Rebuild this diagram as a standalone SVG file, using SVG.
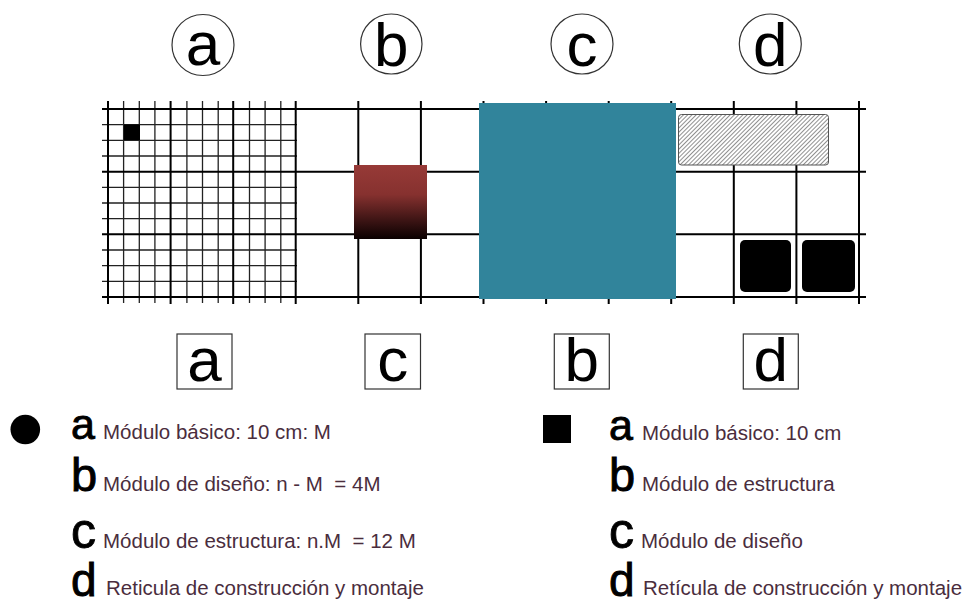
<svg xmlns="http://www.w3.org/2000/svg" width="968" height="601" viewBox="0 0 968 601">
<style>
.maj{stroke:#000;stroke-width:2}
.fine{stroke:#222;stroke-width:1.3}
.big{font-family:"Liberation Sans",Arial,sans-serif;fill:#000;stroke:#000;stroke-width:0.9}
.lbl{font-family:"Liberation Sans",Arial,sans-serif;fill:#000;font-size:62px;text-anchor:middle}
.txt{font-family:"Liberation Sans",Arial,sans-serif;fill:#4a2d3d;font-size:20.5px}
.ring{fill:#fff;stroke:#333;stroke-width:1.2}
.box{fill:#fff;stroke:#333;stroke-width:1.2}
</style>
<defs>
<linearGradient id="grad" x1="0" y1="0" x2="0" y2="1">
<stop offset="0" stop-color="#973a37"/>
<stop offset="0.4" stop-color="#86312f"/>
<stop offset="0.75" stop-color="#3c1414"/>
<stop offset="1" stop-color="#0a0000"/>
</linearGradient>
<pattern id="hatch" width="3" height="3" patternUnits="userSpaceOnUse" patternTransform="rotate(45)">
<rect width="3" height="3" fill="#fff"/>
<line x1="0" y1="0" x2="0" y2="3" stroke="#333" stroke-width="1.1"/>
</pattern>
</defs>
<rect width="968" height="601" fill="#fff"/>

<g id="grid-fine">
<path class="fine" d="M123.6 101V303M139.3 101V303M154.9 101V303M186.9 101V303M202.5 101V303M218.2 101V303M249.5 101V303M265.1 101V303M280.8 101V303
M102 124.7H297M102 140.4H297M102 156H297M102 187.4H297M102 203H297M102 218.7H297M102 250H297M102 265.7H297M102 281.3H297"/>
</g>
<g id="grid-major">
<path class="maj" d="M102 109H866M102 171.7H866M102 234.3H866M102 297H866
M108 101V304M170.6 101V304M233.2 101V304M295.7 101V304M358.3 101V304M420.9 101V304M483.5 101V304M546.1 101V304M608.7 101V304M671.2 101V304M733.8 101V304M796.4 101V304M859 101V304"/>
</g>

<g id="module-a">
<rect x="124" y="124.5" width="16" height="15.5" fill="#000"/>
</g>
<g id="module-b">
<rect x="354" y="165" width="73" height="74" fill="url(#grad)"/>
</g>
<g id="module-c">
<rect x="479" y="103" width="197" height="196" fill="#31849b"/>
</g>
<g id="module-d">
<rect x="678.5" y="114.5" width="150" height="50.5" rx="3" fill="url(#hatch)" stroke="#555" stroke-width="1"/>
<rect x="740" y="240" width="51" height="52" rx="5" fill="#000"/>
<rect x="802" y="240" width="53" height="52" rx="5" fill="#000"/>
</g>

<g id="top-labels">
<g id="top-a"><ellipse class="ring" cx="203" cy="45" rx="31" ry="30.5"/><text class="lbl" x="203" y="65">a</text></g>
<g id="top-b"><ellipse class="ring" cx="391.3" cy="44" rx="30.7" ry="30"/><text class="lbl" x="391.3" y="66">b</text></g>
<g id="top-c"><ellipse class="ring" cx="582" cy="44" rx="31" ry="30"/><text class="lbl" x="582" y="66">c</text></g>
<g id="top-d"><ellipse class="ring" cx="770.3" cy="44" rx="31" ry="30"/><text class="lbl" x="770.3" y="66">d</text></g>
</g>

<g id="bottom-labels">
<g id="bot-a"><rect class="box" x="177" y="334" width="55" height="55"/><text class="lbl" x="204.5" y="381">a</text></g>
<g id="bot-c"><rect class="box" x="365" y="334" width="55.5" height="55"/><text class="lbl" x="392.7" y="381">c</text></g>
<g id="bot-b"><rect class="box" x="554.3" y="334" width="55" height="55"/><text class="lbl" x="581.8" y="381">b</text></g>
<g id="bot-d"><rect class="box" x="743.3" y="334" width="55" height="55"/><text class="lbl" x="770.8" y="381">d</text></g>
</g>

<g id="legend-left">
<circle cx="25.3" cy="429.5" r="14.8" fill="#000"/>
<text class="big" x="71" y="439" font-size="43">a</text>
<text class="txt" x="103" y="439">Módulo básico: 10 cm: M</text>
<text class="big" x="71" y="491" font-size="47">b</text>
<text class="txt" x="103" y="491">Módulo de diseño: n - M&#160; = 4M</text>
<text class="big" x="71" y="548" font-size="50">c</text>
<text class="txt" x="103" y="548">Módulo de estructura: n.M&#160; = 12 M</text>
<text class="big" x="71" y="596" font-size="46">d</text>
<text class="txt" x="106" y="595">Reticula de construcción y montaje</text>
</g>

<g id="legend-right">
<rect x="543" y="415" width="28" height="28" fill="#000"/>
<text class="big" x="609" y="440" font-size="43">a</text>
<text class="txt" x="642" y="440">Módulo básico: 10 cm</text>
<text class="big" x="609" y="491" font-size="47">b</text>
<text class="txt" x="642" y="491">Módulo de estructura</text>
<text class="big" x="609" y="548" font-size="50">c</text>
<text class="txt" x="641" y="548">Módulo de diseño</text>
<text class="big" x="609" y="596" font-size="46">d</text>
<text class="txt" x="643" y="595">Retícula de construcción y montaje</text>
</g>
</svg>
